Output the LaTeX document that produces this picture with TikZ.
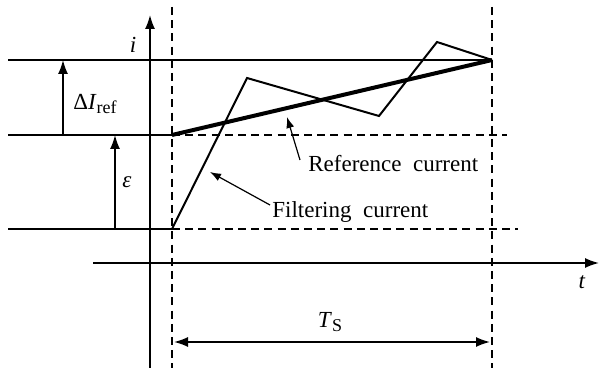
\documentclass[tikz,border=0pt]{standalone}
\usepackage{fontspec}
\setmainfont{Liberation Serif}
\usetikzlibrary{arrows.meta}
\begin{document}
\begin{tikzpicture}[x=0.5pt,y=-0.5pt,
  thinline/.style={line width=0.8pt},
  dashline/.style={line width=0.8pt,dash pattern=on 4pt off 2.6pt},
  arr/.style={-{Latex[length=7pt,width=5pt]}},
  smallarr/.style={-{Latex[length=5.5pt,width=4pt]}},
  lbl/.style={inner sep=0pt,font=\fontsize{11.5pt}{13pt}\selectfont}]
\useasboundingbox (0,0) rectangle (599,368);
% coordinates
\coordinate (L1) at (8,60);   \coordinate (R1) at (492,60);
\coordinate (L2) at (8,135);  \coordinate (A2) at (172,135); \coordinate (E2) at (507,135);
\coordinate (L3) at (8,229);  \coordinate (A3) at (172,229); \coordinate (E3) at (518,229);
\coordinate (YB) at (150,368); \coordinate (YT) at (150,15);
\coordinate (XL) at (93,263);  \coordinate (XR) at (599,263);
\coordinate (D1T) at (172,7);  \coordinate (D1B) at (172,368);
\coordinate (D2T) at (492,7);  \coordinate (D2B) at (492,368);
\coordinate (P1) at (247,78); \coordinate (P2) at (379,116); \coordinate (P3) at (437,42);
\coordinate (dI0) at (63,135); \coordinate (dI1) at (63,60);
\coordinate (e0) at (115,229); \coordinate (e1) at (115,135);
\coordinate (TL) at (174,342); \coordinate (TR) at (490,342);
% horizontal lines
\draw[thinline] (L1) -- (R1);
\draw[thinline] (L2) -- (A2);
\draw[dashline] (A2) -- (E2);
\draw[thinline] (L3) -- (A3);
\draw[dashline] (A3) -- (E3);
% axes
\draw[thinline,arr] (YB) -- (YT);
\draw[thinline,arr] (XL) -- (XR);
% dashed verticals
\draw[dashline] (D1T) -- (D1B);
\draw[dashline] (D2T) -- (D2B);
% reference current
\draw[line width=2pt] (A2) -- (R1);
% filtering current
\draw[line width=1pt,line join=miter] (A3) -- (P1) -- (P2) -- (P3) -- (R1);
% dimension arrows
\draw[thinline,arr] (dI0) -- (dI1);
\draw[thinline,arr] (e0) -- (e1);
\draw[thinline,{Latex[length=7pt,width=5pt]}-{Latex[length=7pt,width=5pt]}] (TL) -- (TR);
% labels
\node[lbl] (li) at (133,45) {\textit{i}};
\node[lbl,anchor=base west] (ldI) at (73,110) {Δ\textit{I}\raisebox{-0.35ex}{\fontsize{9pt}{10pt}\selectfont ref}};
\node[lbl] (leps) at (127,182) {\textit{ε}};
\node[lbl] (lt) at (582,282) {\textit{t}};
\node[lbl,anchor=base] (lTs) at (330,328) {\textit{T}\raisebox{-0.35ex}{\fontsize{9pt}{10pt}\selectfont S}};
\node[lbl,anchor=base west] (lref) at (308,172) {Reference\hspace{0.5em}current};
\node[lbl,anchor=base west] (lfil) at (272,218) {Filtering\hspace{0.5em}current};
% label arrows
\coordinate (rt) at (300,160); \coordinate (rh) at (287,117);
\coordinate (ft) at (270,205); \coordinate (fh) at (210,172);
\draw[line width=0.6pt,smallarr] (rt) -- (rh);
\draw[line width=0.6pt,smallarr] (ft) -- (fh);
\end{tikzpicture}
\end{document}
